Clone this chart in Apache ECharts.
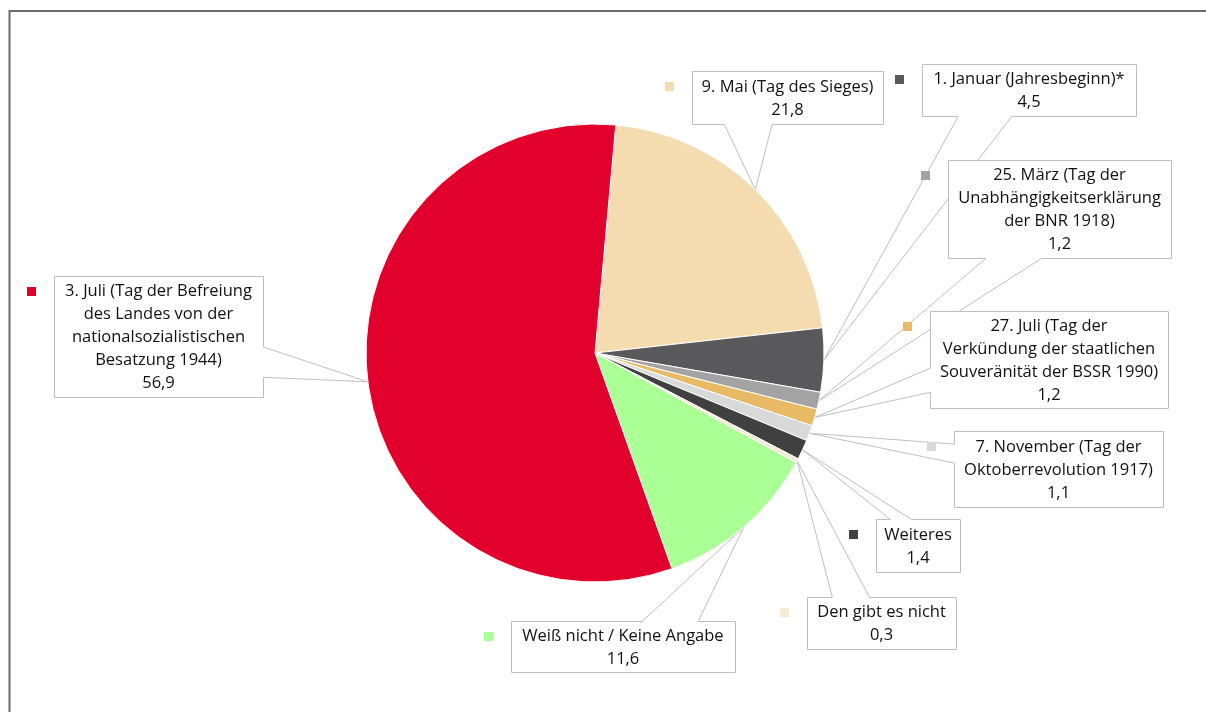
<!DOCTYPE html>
<html>
<head>
<meta charset="utf-8">
<script src="https://cdn.jsdelivr.net/npm/echarts@6/dist/echarts.min.js"></script>
<style>
  html, body { margin: 0; padding: 0; background: #fff; }
  #chart { width: 1206px; height: 712px; }
</style>
</head>
<body>
<div id="chart"></div>
<script>
// ---- data ----
const categories = [
  '9. Mai (Tag des Sieges)',
  '1. Januar (Jahresbeginn)*',
  '25. März (Tag der\nUnabhängigkeitserklärung\nder BNR 1918)',
  '27. Juli (Tag der\nVerkündung der staatlichen\nSouveränität der BSSR 1990)',
  '7. November (Tag der\nOktoberrevolution 1917)',
  'Weiteres',
  'Den gibt es nicht',
  'Weiß nicht / Keine Angabe',
  '3. Juli (Tag der Befreiung\ndes Landes von der\nnationalsozialistischen\nBesatzung 1944)'
];
const values = [21.8, 4.5, 1.2, 1.2, 1.1, 1.4, 0.3, 11.6, 56.9];

// ---- styles ----
const colors = ['#F4DCB0', '#59595B', '#A3A3A3', '#E9BA66', '#D9D9D9', '#404040', '#F5EBD6', '#AAFF95', '#E2002D'];

// ---- layout: callout boxes [x, y, width, height] ----
const boxes = [
  [692, 71, 191, 53],
  [922, 64, 214, 52],
  [948, 160, 223, 98],
  [930, 311, 238, 97],
  [954, 431, 209, 76],
  [876, 519, 84, 53],
  [807, 597, 149, 52],
  [511, 621, 224, 51],
  [54, 276, 209, 121]
];

const fmt = v => v.toFixed(1).replace('.', ',');

const chart = echarts.init(document.getElementById('chart'), null, { renderer: 'canvas' });

const option = {
  animation: false,
  backgroundColor: '#fff',
  series: [{
    type: 'pie',
    z: 2,
    center: [595, 353],
    radius: 229,
    startAngle: 84.8,
    clockwise: true,
    avoidLabelOverlap: false,
    itemStyle: { borderColor: '#fff', borderWidth: 1 },
    emphasis: { disabled: true },
    label: {
      show: true,
      position: 'outside',
      formatter: p => p.name + '\n' + fmt(p.value),
      fontFamily: '"Open Sans", sans-serif',
      fontSize: 16.5,
      lineHeight: 23,
      color: '#111',
      align: 'center'
    },
    labelLine: { show: false },
    labelLayout: function (params) {
      const b = boxes[params.dataIndex];
      return {
        x: b[0] + b[2] / 2,
        y: b[1] + b[3] / 2 + 1,
        align: 'center',
        verticalAlign: 'middle',
        hideOverlap: false,
        moveOverlap: null
      };
    },
    data: categories.map((c, i) => ({ name: c, value: values[i], itemStyle: { color: colors[i] } }))
  }]
};

chart.setOption(option);

// ---- callout shapes (Excel wedgeRectCallout) pointing at each slice ----
function calloutPoints(b, tip) {
  const x = b[0] + 0.5, y = b[1] + 0.5, w = b[2], h = b[3];
  const hc = x + w / 2, vc = y + h / 2;
  const dx = tip[0] - hc, dy = tip[1] - vc;
  if (Math.abs(dy * w) > Math.abs(dx * h)) {
    const b1 = dx > 0 ? x + w * 7 / 12 : x + w * 2 / 12;
    const b2 = dx > 0 ? x + w * 10 / 12 : x + w * 5 / 12;
    if (dy > 0) {
      return [[x, y], [x + w, y], [x + w, y + h], [b2, y + h], tip, [b1, y + h], [x, y + h]];
    }
    return [[x, y], [b1, y], tip, [b2, y], [x + w, y], [x + w, y + h], [x, y + h]];
  } else {
    const b1 = dy > 0 ? y + h * 7 / 12 : y + h * 2 / 12;
    const b2 = dy > 0 ? y + h * 10 / 12 : y + h * 5 / 12;
    if (dx > 0) {
      return [[x, y], [x + w, y], [x + w, b1], tip, [x + w, b2], [x + w, y + h], [x, y + h]];
    }
    return [[x, y], [x + w, y], [x + w, y + h], [x, y + h], [x, b2], tip, [x, b1]];
  }
}

const elements = [{
  type: 'rect', z: 0,
  shape: { x: 9.5, y: 11, width: 1400, height: 900 },
  style: { fill: null, stroke: '#6b6b6b', lineWidth: 2 }
}];

let layouts = null;
try {
  const data = chart.getModel().getSeriesByIndex(0).getData();
  layouts = categories.map((c, i) => data.getItemLayout(i));
} catch (e) { layouts = null; }

categories.forEach((c, i) => {
  const b = boxes[i];
  let tip = [b[0], b[1]];
  if (layouts && layouts[i]) {
    const L = layouts[i];
    const mid = (L.startAngle + L.endAngle) / 2;
    tip = [L.cx + L.r * Math.cos(mid), L.cy + L.r * Math.sin(mid)];
  }
  elements.push({
    type: 'polygon', z: 1,
    shape: { points: calloutPoints(b, tip) },
    style: { fill: '#fff', stroke: '#BFBFBF', lineWidth: 1 }
  });
  elements.push({
    type: 'rect', z: 1,
    shape: { x: b[0] - 27, y: b[1] + 11, width: 9, height: 9 },
    style: { fill: colors[i] }
  });
});

chart.setOption({ graphic: { elements: elements } });
</script>
</body>
</html>
